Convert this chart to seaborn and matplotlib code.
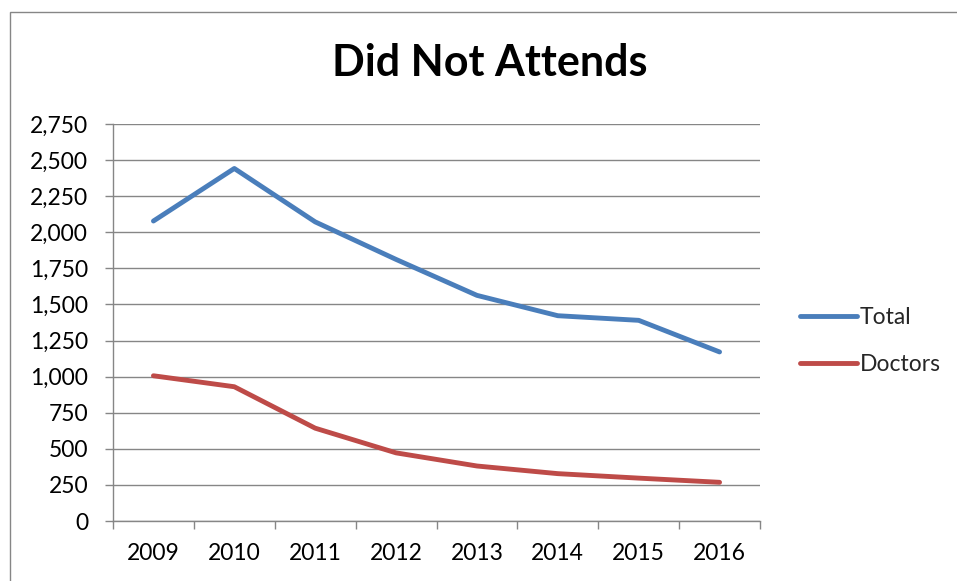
import matplotlib
matplotlib.use("Agg")
import matplotlib.pyplot as plt
import matplotlib.patches as mpatches
from matplotlib.ticker import FuncFormatter, FixedLocator
import numpy as np
import pandas as pd
import seaborn as sns

years = ["2009", "2010", "2011", "2012", "2013", "2014", "2015", "2016"]
total = [2078, 2442, 2072, 1812, 1563, 1422, 1390, 1171]
doctors = [1006, 930, 643, 472, 381, 328, 297, 268]
series_names = ["Total", "Doctors"]
series_colors = ["#4A7EBB", "#BE4B48"]

df = pd.DataFrame({
    "idx": list(range(len(years))) * 2,
    "value": total + doctors,
    "series": [series_names[0]] * len(years) + [series_names[1]] * len(years),
})

sns.set_theme(style="white")
plt.rcParams["font.family"] = ["Lato", "DejaVu Sans"]

W, H = 957, 581
fig = plt.figure(figsize=(W / 100, H / 100), dpi=100)
ax = fig.add_axes([113 / W, 1 - 521 / H, (760 - 113) / W, (521 - 124) / H])

lw = 3.5
sns.lineplot(data=df, x="idx", y="value", hue="series", palette=series_colors,
             hue_order=series_names, linewidth=lw, ax=ax, legend=False,
             solid_capstyle="round", solid_joinstyle="round")

grid_c = "#868686"
ax.set_xlim(-0.5, len(years) - 0.5)
ax.set_ylim(0, 2750)
ax.set_yticks(np.arange(0, 2751, 250))
ax.yaxis.set_major_formatter(FuncFormatter(lambda v, p: f"{int(v):,}"))
ax.yaxis.grid(True, color=grid_c, linewidth=1.0)
ax.set_axisbelow(True)

# category axis: ticks at boundaries, labels at centers
ax.xaxis.set_major_locator(FixedLocator(np.arange(-0.5, len(years), 1.0)))
ax.xaxis.set_minor_locator(FixedLocator(np.arange(len(years))))
ax.set_xticklabels([])
ax.set_xticklabels(years, minor=True)
ax.tick_params(axis="x", which="major", direction="out", length=6, width=1, color=grid_c, bottom=True)
ax.tick_params(axis="x", which="minor", length=0, labelsize=16.5, pad=16, colors="black")
ax.tick_params(axis="y", direction="out", length=6, width=1, color=grid_c, left=True,
               labelsize=16.5, pad=12, labelcolor="black")
ax.set_xlabel("")
ax.set_ylabel("")

for s in ["top", "right"]:
    ax.spines[s].set_visible(False)
for s in ["left", "bottom"]:
    ax.spines[s].set_color(grid_c)
    ax.spines[s].set_linewidth(1.0)

fig.text(490 / W, 1 - 63 / H, "Did Not Attends", ha="center", va="center",
         fontsize=31, fontweight="bold", color="black")

handles = [plt.Line2D([], [], color=c, linewidth=lw, solid_capstyle="round")
           for c in series_colors]
fig.legend(handles, series_names, loc="center left",
           bbox_to_anchor=(800 / W, 1 - 341 / H), frameon=False,
           fontsize=16.5, handlelength=2.5, handletextpad=0.12,
           labelspacing=1.15, borderpad=0, borderaxespad=0)

# outer chart border
fig.patches.append(mpatches.Rectangle((10 / W, -0.1), 1.2, 1 - 12.5 / H + 0.1,
                                      transform=fig.transFigure, fill=False,
                                      edgecolor="#868686", linewidth=1.0))

fig.savefig("out.png", dpi=100)
